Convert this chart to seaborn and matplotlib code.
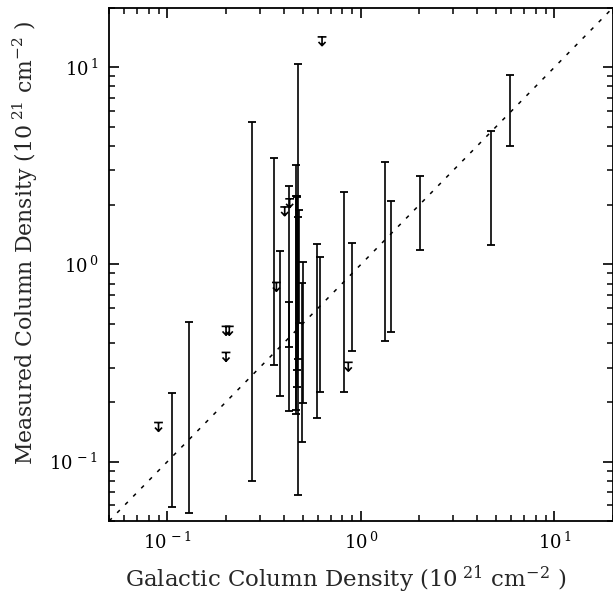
import numpy as np
import pandas as pd
import matplotlib
matplotlib.use("Agg")
import matplotlib.pyplot as plt
from matplotlib.path import Path
from matplotlib.ticker import FixedLocator, FuncFormatter, LogLocator, NullFormatter
import seaborn as sns

# ── Data ─────────────────────────────────────────────────────
# measured ranges: galactic column, lower / upper measured column (1e21 cm^-2)
bar_x  = [0.106, 0.130, 0.273, 0.356, 0.384, 0.425, 0.423, 0.460, 0.472,
          0.463, 0.469, 0.466, 0.475, 0.480, 0.497, 0.502, 0.592, 0.613,
          0.819, 0.898, 1.336, 1.43, 2.01, 4.72, 5.92]
bar_lo = [0.059, 0.055, 0.080, 0.310, 0.214, 0.181, 0.381, 0.175, 0.068,
          0.183, 0.292, 0.240, 0.330, 0.506, 0.126, 0.198, 0.166, 0.226,
          0.226, 0.366, 0.411, 0.454, 1.18, 1.25, 3.97]
bar_hi = [0.222, 0.51, 5.26, 3.47, 1.17, 2.51, 0.648, 3.21, 10.4,
          2.23, 2.23, 2.20, 1.75, 1.90, 0.804, 1.035, 1.27, 1.09,
          2.32, 1.28, 3.30, 2.11, 2.82, 4.78, 9.10]

# upper limits
lim_x = [0.090, 0.201, 0.201, 0.209, 0.366, 0.404, 0.4285, 0.630, 0.861]
lim_y = [0.150, 0.340, 0.461, 0.461, 0.770, 1.86, 2.045, 13.55, 0.303]

# 1:1 line
line_xy = [0.05, 20.0]

# ── Style ────────────────────────────────────────────────────
sns.set_style("ticks")
plt.rcParams["font.family"] = ["DejaVu Serif"]
plt.rcParams["mathtext.fontset"] = "dejavuserif"
plt.rcParams["axes.linewidth"] = 1.3

fig = plt.figure(figsize=(6.13, 5.98), dpi=100)
ax = fig.add_axes([0.178, 0.1288, 0.8214, 0.8579])
ax.set_xscale("log")
ax.set_yscale("log")
ax.set_xlim(0.05, 20)
ax.set_ylim(0.05, 20)

sns.lineplot(x=line_xy, y=line_xy, ax=ax, color="black", lw=1.1,
             linestyle=(0, (2.5, 5)))

mid = np.sqrt(np.array(bar_lo) * np.array(bar_hi))
yerr = [mid - np.array(bar_lo), np.array(bar_hi) - mid]
ax.errorbar(bar_x, mid, yerr=yerr, fmt="none", ecolor="black",
            elinewidth=1.2, capsize=2.8, capthick=1.3)

# upper-limit glyph: bar on top, arrow pointing down
arrow = Path([(-1, 1), (1, 1), (0, 1), (0, -1), (-0.8, -0.15), (0, -1), (0.8, -0.15)],
             [Path.MOVETO, Path.LINETO, Path.MOVETO, Path.LINETO,
              Path.MOVETO, Path.LINETO, Path.LINETO])
lims = pd.DataFrame({"x": lim_x, "y": lim_y})
sns.scatterplot(data=lims, x="x", y="y", ax=ax, marker=arrow, s=40,
                facecolor="none", edgecolor="black", linewidth=1.2)

fmt = FuncFormatter(lambda v, pos: r"$10^{\,%d}$" % int(round(np.log10(v))))
for axis in (ax.xaxis, ax.yaxis):
    axis.set_major_locator(FixedLocator([0.1, 1, 10]))
    axis.set_major_formatter(fmt)
    axis.set_minor_locator(LogLocator(base=10, subs=np.arange(2, 10), numticks=20))
    axis.set_minor_formatter(NullFormatter())

ax.tick_params(which="both", direction="in", top=True, right=True,
               colors="black", labelsize=13)
ax.tick_params(which="major", length=7, width=1.2, pad=8)
ax.tick_params(which="minor", length=4.5, width=1.1)

ax.set_xlabel(r"Galactic Column Density (10$^{\ 21}$ cm$^{-2}$ )", fontsize=16.5)
ax.set_ylabel(r"Measured Column Density (10$^{\ 21}$ cm$^{-2}$ )", fontsize=15.8)
ax.xaxis.set_label_coords(0.47, -0.083)
ax.yaxis.set_label_coords(-0.137, 0.542)

for s in ax.spines.values():
    s.set_color("black")

fig.savefig("out.png", dpi=100, facecolor="white")
